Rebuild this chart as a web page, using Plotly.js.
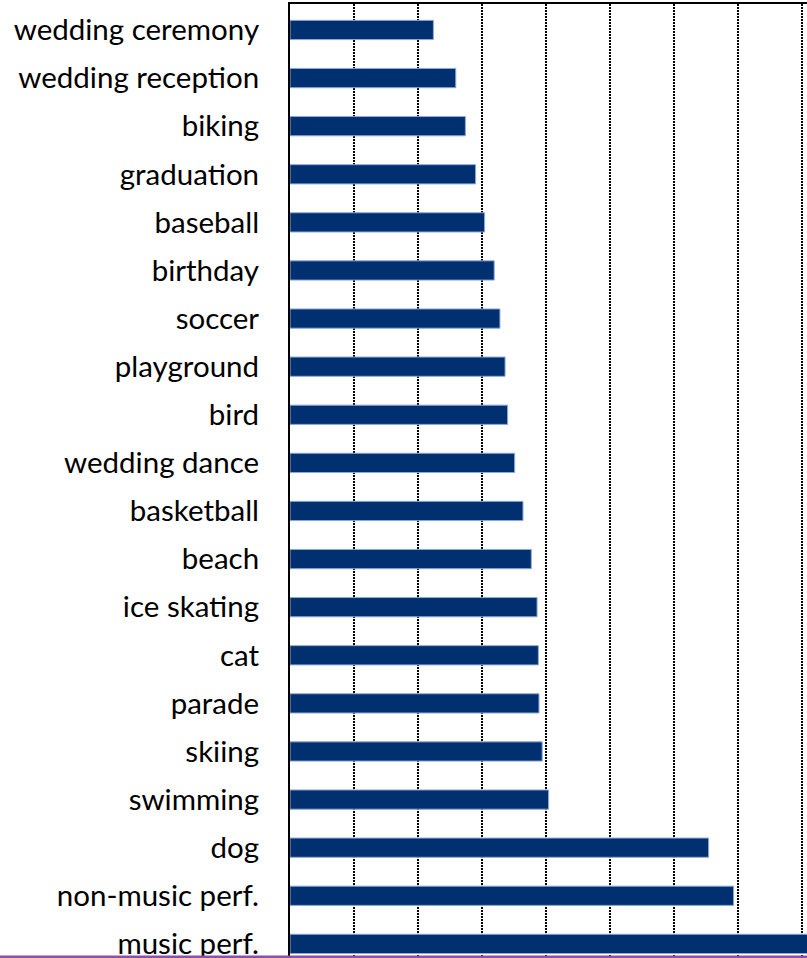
<!DOCTYPE html>
<html>
<head>
<meta charset="utf-8">
<script src="https://cdn.plot.ly/plotly-3.0.1.min.js"></script>
<style>
html,body{margin:0;padding:0;overflow:hidden;background:#fff;width:807px;height:958px;}
#chart{width:900px;height:1000px;}
</style>
</head>
<body>
<div id="chart"></div>
<script>
const categories = ["wedding ceremony","wedding reception","biking","graduation","baseball","birthday","soccer","playground","bird","wedding dance","basketball","beach","ice skating","cat","parade","skiing","swimming","dog","non-music perf.","music perf."];
const values = [22.4,25.9,27.4,29.0,30.4,31.9,32.8,33.6,34.0,35.1,36.4,37.7,38.6,38.8,38.9,39.4,40.4,65.4,69.3,81.0];
const gridTicks = [0,10,20,30,40,50,60,70,80,90];

const trace = {
  type: 'bar',
  orientation: 'h',
  x: values,
  y: categories,
  width: 0.4,
  marker: {color: '#003070', line: {color: '#8fa8d8', width: 1}},
  hoverinfo: 'x+y'
};

const layout = {
  width: 900, height: 1000,
  margin: {l: 290, r: 0, t: 4, b: 34},
  paper_bgcolor: '#fff', plot_bgcolor: '#fff',
  showlegend: false,
  font: {family: 'Lato, "Open Sans", sans-serif', color: '#000'},
  xaxis: {
    range: [0, 95.3],
    tickvals: gridTicks,
    showticklabels: false,
    showgrid: true,
    gridcolor: '#000', griddash: '2px,1px', gridwidth: 2,
    zeroline: false,
    showline: true, linecolor: '#000', linewidth: 2, mirror: true,
    ticks: '', fixedrange: true
  },
  yaxis: {
    type: 'category',
    autorange: false,
    range: [19.46, -0.54],
    showgrid: false, zeroline: false,
    showline: true, linecolor: '#000', linewidth: 2,
    ticks: '',
    ticklabelstandoff: 23,
    tickfont: {size: 29.5, family: 'Lato, "Open Sans", sans-serif', color: '#000'},
    fixedrange: true
  },
  shapes: [{
    type: 'line', xref: 'paper', yref: 'paper',
    x0: -0.5, x1: 1.0, y0: 0.0093, y1: 0.0093,
    line: {color: '#8a4fb0', width: 3}
  }]
};

Plotly.newPlot('chart', [trace], layout, {displayModeBar: false, staticPlot: true});
</script>
</body>
</html>
